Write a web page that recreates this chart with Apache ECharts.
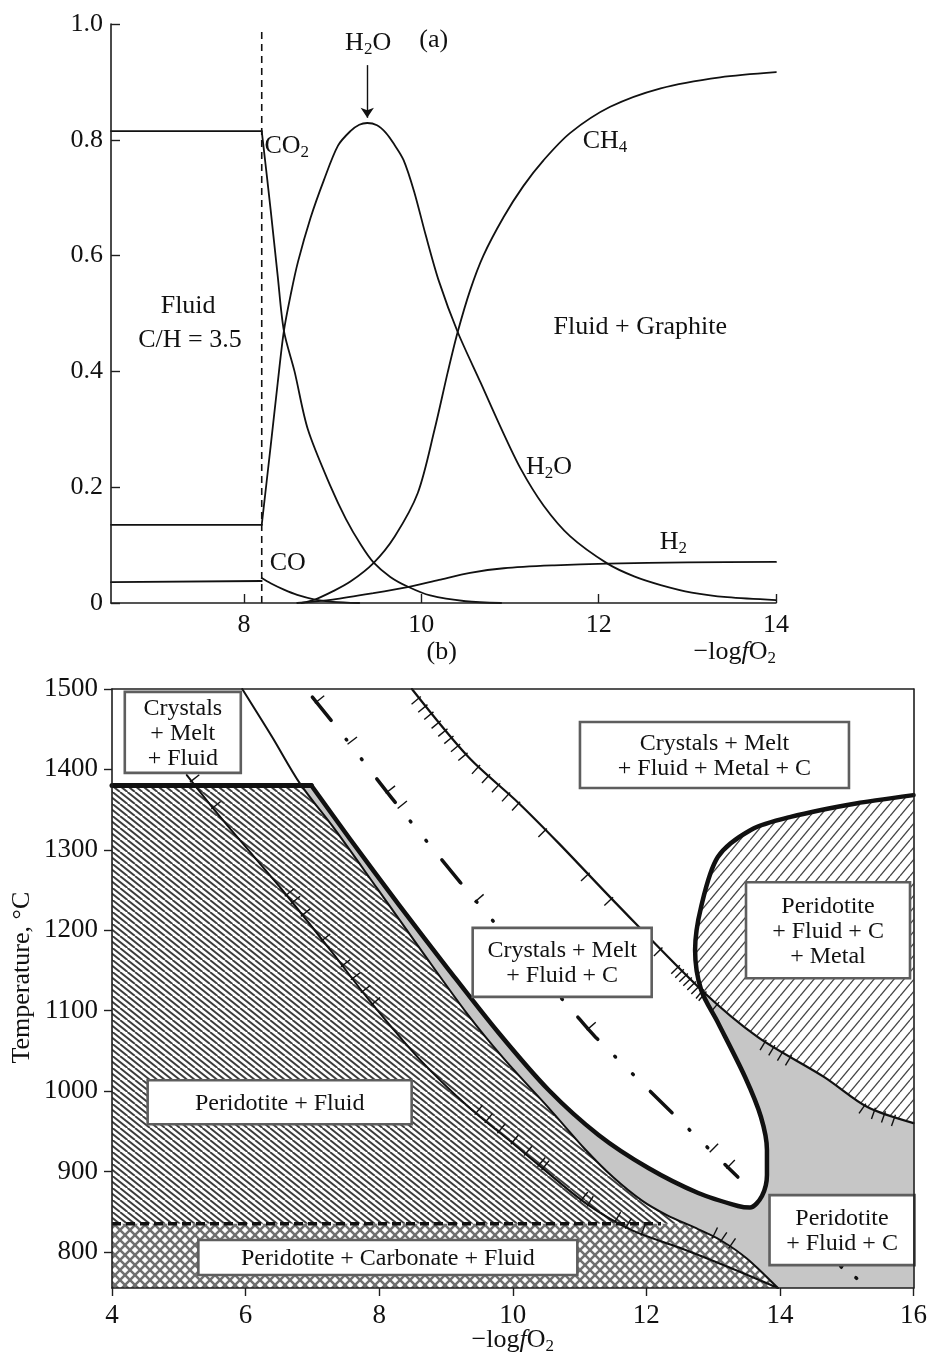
<!DOCTYPE html>
<html>
<head>
<meta charset="utf-8">
<title>Fluid speciation and phase relations versus −log fO2</title>
<script src="https://cdn.jsdelivr.net/npm/echarts@6.0.0/dist/echarts.min.js"></script>
<style>
html, body { margin: 0; padding: 0; background: #fff; }
#chart { width: 930px; height: 1360px; }
</style>
</head>
<body>
<div id="chart"></div>
<script>
// ---------------- (a) fluid species vs −log fO2 ----------------
const graphiteOnsetX = 8.2;                 // dashed line: graphite saturation
const topXTicks = [8, 10, 12, 14];

const speciesCO2 = [[6.5,0.815],[8.2,0.815],[8.3,0.68],[8.38,0.565],[8.45,0.47],[8.57,0.40],[8.72,0.30],[8.98,0.20],[9.15,0.145],[9.32,0.10],[9.46,0.07],[9.65,0.045],[9.85,0.028],[10.1,0.013],[10.5,0.003],[10.9,0.0]];
const speciesH2O = [[6.5,0.135],[8.2,0.135],[8.3,0.27],[8.38,0.38],[8.45,0.47],[8.53,0.535],[8.61,0.59],[8.75,0.665],[8.9,0.73],[9.06,0.79],[9.2,0.815],[9.3,0.826],[9.39,0.829],[9.5,0.825],[9.6,0.812],[9.69,0.793],[9.8,0.765],[9.92,0.71],[10.05,0.635],[10.2,0.555],[10.41,0.468],[10.67,0.38],[10.89,0.305],[11.12,0.232],[11.38,0.168],[11.68,0.115],[12.1,0.068],[12.4,0.046],[12.7,0.031],[13.05,0.018],[13.45,0.010],[14.0,0.005]];
const speciesCH4 = [[8.65,0.0],[8.8,0.006],[9.0,0.02],[9.2,0.037],[9.46,0.069],[9.7,0.115],[9.96,0.19],[10.15,0.30],[10.3,0.40],[10.41,0.468],[10.55,0.54],[10.7,0.60],[10.93,0.667],[11.15,0.72],[11.38,0.765],[11.68,0.812],[12.13,0.857],[12.7,0.889],[13.37,0.908],[14.0,0.917]];
const speciesCO  = [[6.5,0.036],[8.2,0.038],[8.2,0.043],[8.3,0.034],[8.45,0.023],[8.6,0.014],[8.8,0.006],[9.0,0.002],[9.3,0.0]];
const speciesH2  = [[8.6,0.0],[9.0,0.006],[9.46,0.017],[9.86,0.028],[10.2,0.04],[10.55,0.052],[10.93,0.06],[11.5,0.065],[12.1,0.068],[13.0,0.07],[14.0,0.071]];

// ---------------- (b) temperature vs −log fO2 ----------------
const tempTicks = [800, 900, 1000, 1100, 1200, 1300, 1400, 1500];
const carbonateLimitT = 835;                // dashed line
const carbonateLimitEndX = 12.22;

// heavy boundary: 1380 °C plateau, lower branch, nose, upper branch
const heavyBoundary = [[4,1380],[6.985,1380],[7.552,1314.7],[8.299,1231.3],[9.045,1150.5],[9.791,1072.1],[10.537,1001.2],[11.284,945.3],[12.03,904.2],[12.776,873.1],[13.373,857.0],[13.552,855.0],[13.731,869.4],[13.806,895.5],[13.806,926.6],[13.716,967.7],[13.478,1017.4],[13.075,1084.6],[12.82,1126],[12.73,1175.4],[12.82,1228.9],[13.07,1291],[13.57,1325],[14.16,1341],[15.16,1358],[16,1368]];
// upper edge of the Peridotite + Fluid field
const peridotiteFluidEdge = [[5.95,1500],[6.4,1440],[6.81,1383],[7.34,1325],[7.97,1252],[8.63,1175],[9.31,1097],[9.87,1040],[10.57,976],[11.09,927],[11.5,893],[11.93,864],[12.3,846],[12.78,828],[13.1,815],[13.5,792],[13.97,755]];
// ticked curve inside the Peridotite + Fluid field
const innerCurve = [[5.12,1393],[5.57,1346],[6.1,1294],[6.55,1250],[7.30,1172],[7.85,1113],[8.6,1040],[9.34,980],[10.0,935],[10.43,905],[11.1,860],[11.78,827],[12.5,805],[13.2,782],[13.97,755]];
// ticked curve bounding the metal-bearing fields
const metalCurve = [[8.49,1500],[9.34,1415],[10.09,1358],[10.69,1308],[11.54,1234],[12.82,1126],[13.67,1067],[14.67,1017],[15.31,980],[16,960]];
// dash-dot curve
const dashDotCurve = [[7.0,1490],[7.51,1437],[8.25,1358],[9.22,1259],[9.69,1213],[10.88,1101],[11.24,1067],[13.37,893]];
const dashDotTail = [[14.91,782],[15.39,752]];

// tick marks (x positions) along the curves
const metalCurveTicks = [8.6,8.7,8.79,8.9,9.0,9.09,9.19,9.3,9.49,9.64,9.79,9.94,10.09,10.49,11.13,11.48,12.07,12.22,12.48,12.54,12.6,12.66,12.72,12.78,12.84,12.88,13.07,13.78,13.91,14.04,14.16,15.27,15.42,15.57,15.72];
const innerCurveTicks = [5.19,5.51,6.61,6.7,6.85,7.15,7.45,7.6,7.75,7.9,9.45,9.6,9.79,9.99,10.19,10.39,10.45,11.03,11.13,11.54,11.7,11.93];
const edgeTicks = [13.0,13.12,13.25];
const dashDotTicks = [7.06,7.55,8.12,8.3,9.45,11.13,12.97,13.22];
const dashDotTailTicks = [14.93];

// phase-field labels
const fieldLabels = [
  { at:[5.06,1446],  w:116, h:81, lines:['Crystals','+ Melt','+ Fluid'] },
  { at:[13.02,1418], w:269, h:66, lines:['Crystals + Melt','+ Fluid + Metal + C'] },
  { at:[10.74,1160], w:179, h:69, lines:['Crystals + Melt','+ Fluid + C'] },
  { at:[14.72,1200], w:164, h:96, lines:['Peridotite','+ Fluid + C','+ Metal'] },
  { at:[6.51,986],   w:264, h:44, lines:['Peridotite + Fluid'] },
  { at:[8.13,793],   w:379, h:35, lines:['Peridotite + Carbonate + Fluid'] },
  { at:[14.93,827],  w:145, h:70, lines:['Peridotite','+ Fluid + C'] }
];

const topTexts = [
  { at:[8.23,0.789],  text:'{n|CO}{s|2}', align:'left' },
  { at:[11.82,0.798], text:'{n|CH}{s|4}', align:'left' },
  { at:[9.40,0.967],  text:'{n|H}{s|2}{n|O}' },
  { at:[10.14,0.972], text:'{n|(a)}' },
  { at:[7.37,0.513],  text:'{n|Fluid}' },
  { at:[7.39,0.454],  text:'{n|C/H = 3.5}' },
  { at:[12.47,0.477], text:'{n|Fluid + Graphite}' },
  { at:[11.18,0.235], text:'{n|H}{s|2}{n|O}', align:'left' },
  { at:[12.69,0.105], text:'{n|H}{s|2}', align:'left' },
  { at:[8.29,0.069],  text:'{n|CO}', align:'left' },
  { at:[14.0,-0.085], text:'{n|−log}{i|f}{n|O}{s|2}', align:'right' },
  { at:[10.23,-0.085],text:'{n|(b)}' }
];
const bottomTexts = [
  { at:[10.0,690],  text:'{n|−log}{i|f}{n|O}{s|2}' },
  { at:[2.66,1141], text:'{n|Temperature, °C}', rotate:Math.PI/2 }
];

// ---------------- helpers ----------------
const FONT = '"Liberation Serif", "Times New Roman", Times, serif';
const INK = '#111';
const RICH = {
  n: { fontSize:26, fontFamily:FONT, fill:INK, color:INK, lineHeight:30 },
  i: { fontSize:26, fontFamily:FONT, fontStyle:'italic', fill:INK, color:INK, lineHeight:30 },
  s: { fontSize:17, fontFamily:FONT, fill:INK, color:INK, lineHeight:19, verticalAlign:'bottom' }
};

// repeating line pattern; each tile is w x h, lines run corner to corner,
// `count` parallel lines per tile
function hatch(w, h, count, width, color, dirs) {
  const c = document.createElement('canvas');
  c.width = w; c.height = h;
  const g = c.getContext('2d');
  g.fillStyle = '#fff';
  g.fillRect(0, 0, w, h);
  g.strokeStyle = color;
  g.lineWidth = width;
  for (const d of dirs) {
    for (let j = 0; j < count; j++) {
      const o = j * w / count;
      for (let k = -1; k <= 1; k++) {
        g.beginPath();
        if (d === '\\') { g.moveTo(o + k*w, 0); g.lineTo(o + k*w + w, h); }
        else { g.moveTo(o + k*w, h); g.lineTo(o + k*w + w, 0); }
        g.stroke();
      }
    }
  }
  return { image: c, repeat: 'repeat' };
}
const backHatch  = hatch(15, 12, 2, 1.9, '#3c3c3c', ['\\']);
const fwdHatch   = hatch(10, 12, 1, 1.3, '#444', ['/']);
const crossHatch = hatch(10, 10, 1, 2.5, '#707070', ['\\', '/']);

// part of a curve (T decreasing along it) between two temperatures
function sliceByT(line, hi, lo) {
  const out = [];
  for (let i = 0; i < line.length; i++) {
    const p = line[i];
    if (i > 0) {
      const a = line[i-1];
      for (const t of [hi, lo]) {
        if ((a[1]-t)*(p[1]-t) < 0) {
          const f = (t - a[1]) / (p[1] - a[1]);
          out.push([a[0] + (p[0]-a[0])*f, t]);
        }
      }
    }
    if (p[1] <= hi && p[1] >= lo) out.push(p);
  }
  return out;
}
function splitAt(pts, x0) {
  const i = pts.findIndex(p => p[0] >= x0);
  let j = -1;
  pts.forEach((p, k) => { if (p[0] <= x0) j = k; });
  return [i > 0 ? pts.slice(0, i+1) : [], j >= 0 ? pts.slice(j) : pts];
}
const same = (a, b) => a[0] === b[0] && a[1] === b[1];
const kHeavy = heavyBoundary.findIndex(p => metalCurve.some(q => same(p, q)));
const kMetal = metalCurve.findIndex(p => same(p, heavyBoundary[kHeavy]));

// filled fields
const regionBack = [[4,1380], ...sliceByT(peridotiteFluidEdge, 1380, carbonateLimitT), [4,carbonateLimitT]];
const regionCross = [[4,carbonateLimitT], ...sliceByT(peridotiteFluidEdge, carbonateLimitT, 755), [4,755]];
const regionGrey = [...sliceByT(peridotiteFluidEdge, 1383, 755), [16,755],
  ...metalCurve.slice(kMetal).reverse(), ...heavyBoundary.slice(1, kHeavy).reverse()];
const regionMetal = [...heavyBoundary.slice(kHeavy), ...metalCurve.slice(kMetal).reverse().slice(0, -1)];

function regionSeries(pts, fill) {
  return {
    type:'custom', xAxisIndex:1, yAxisIndex:1, z:1, silent:true, animation:false, clip:true,
    data:[[10, 1000]],
    renderItem: (p, api) => ({
      type:'polygon',
      shape:{ points: pts.map(q => api.coord(q)) },
      style:{ fill: fill, stroke: null }
    })
  };
}

function lineSeries(xi, data, width, opts) {
  return Object.assign({
    type:'line', xAxisIndex:xi, yAxisIndex:xi, data: data, symbol:'none', showSymbol:false,
    silent:true, animation:false, z:3,
    lineStyle:{ color:INK, width: width, cap:'round', join:'round' }
  }, opts || {});
}

const hachureSets = [
  { line: metalCurve, at: metalCurveTicks, side: -1 },
  { line: innerCurve, at: innerCurveTicks, side: 1 },
  { line: peridotiteFluidEdge, at: edgeTicks, side: 1 },
  { line: dashDotCurve, at: dashDotTicks, side: 1 },
  { line: dashDotTail, at: dashDotTailTicks, side: 1 }
];
const hachureSeries = {
  type:'custom', xAxisIndex:1, yAxisIndex:1, z:4, silent:true, animation:false, clip:true,
  data:[[10, 1000]],
  renderItem: (p, api) => {
    const children = [];
    for (const h of hachureSets) {
      const px = h.line.map(q => api.coord(q));
      for (const x of h.at) {
        let i = 0;
        while (i < h.line.length - 2 && h.line[i+1][0] < x) i++;
        const a = h.line[i], b = h.line[i+1];
        const f = (x - a[0]) / (b[0] - a[0]);
        const P = [px[i][0] + (px[i+1][0]-px[i][0])*f, px[i][1] + (px[i+1][1]-px[i][1])*f];
        let tx = px[i+1][0]-px[i][0], ty = px[i+1][1]-px[i][1];
        const L = Math.hypot(tx, ty); tx /= L; ty /= L;
        const nx = ty*h.side, ny = -tx*h.side;
        children.push({ type:'line',
          shape:{ x1:P[0]-nx*2, y1:P[1]-ny*2, x2:P[0]+nx*10, y2:P[1]+ny*10 },
          style:{ stroke:INK, lineWidth:1.4 } });
      }
    }
    return { type:'group', children };
  }
};

const fieldLabelSeries = {
  type:'custom', xAxisIndex:1, yAxisIndex:1, z:6, silent:true, animation:false, clip:false,
  data: fieldLabels.map(b => b.at),
  renderItem: (p, api) => {
    const b = fieldLabels[p.dataIndex];
    const c = api.coord(b.at);
    return { type:'group', children:[
      { type:'rect', shape:{ x:c[0]-b.w/2, y:c[1]-b.h/2, width:b.w, height:b.h },
        style:{ fill:'#fff', stroke:'#5e5e5e', lineWidth:2.6 } },
      { type:'text', x:c[0], y:c[1]+1,
        style:{ text:b.lines.join('\n'), font:'24px ' + FONT, fill:INK, lineHeight:25,
                align:'center', verticalAlign:'middle', textAlign:'center', textVerticalAlign:'middle' } }
    ]};
  }
};

function textSeries(xi, items) {
  return {
    type:'custom', xAxisIndex:xi, yAxisIndex:xi, z:7, silent:true, animation:false, clip:false,
    data: items.map(t => t.at),
    renderItem: (p, api) => {
      const t = items[p.dataIndex];
      const c = api.coord(t.at);
      const al = t.align || 'center';
      return { type:'text', x:c[0], y:c[1], rotation:t.rotate || 0,
        style:{ text:t.text, rich:RICH, font:'26px ' + FONT, fill:INK,
                align:al, verticalAlign:'middle', textAlign:al, textVerticalAlign:'middle' } };
    }
  };
}

// ---------------- series ----------------
const series = [];
for (const sp of [speciesCO2, speciesH2O, speciesCH4, speciesCO, speciesH2]) {
  const [before, after] = splitAt(sp, graphiteOnsetX);
  if (before.length > 1) series.push(lineSeries(0, before, 1.8));
  series.push(lineSeries(0, after, 1.8, { smooth: 0.3 }));
}
// arrow pointing at the H2O maximum
series.push(lineSeries(0, [], 1.4, {
  markLine:{ silent:true, animation:false, symbol:['none','arrow'], symbolSize:10,
    label:{ show:false }, lineStyle:{ type:'solid', color:INK, width:1.4 },
    data:[[{ coord:[9.39,0.929] }, { coord:[9.39,0.838] }]] }
}));
series.push(lineSeries(0, [[graphiteOnsetX,0],[graphiteOnsetX,0.99]], 1.6, {
  lineStyle:{ color:INK, width:1.6, type:[7,5] }
}));
series.push(textSeries(0, topTexts));

series.push(regionSeries(regionBack, backHatch));
series.push(regionSeries(regionCross, crossHatch));
series.push(regionSeries(regionGrey, '#c6c6c6'));
series.push(regionSeries(regionMetal, fwdHatch));

series.push(lineSeries(1, heavyBoundary.slice(0, 2), 5));
series.push(lineSeries(1, heavyBoundary.slice(1), 4.5, { smooth: 0.3 }));
series.push(lineSeries(1, peridotiteFluidEdge, 2, { smooth: 0.3 }));
series.push(lineSeries(1, innerCurve, 2, { smooth: 0.3 }));
series.push(lineSeries(1, metalCurve, 2.2, { smooth: 0.3 }));
series.push(lineSeries(1, dashDotCurve, 3.5, { smooth: 0.3,
  lineStyle:{ color:INK, width:3.5, cap:'round', type:[30,24,1,24,1,24] } }));
series.push(lineSeries(1, dashDotTail, 3.5, {
  lineStyle:{ color:INK, width:3.5, cap:'round', type:[1,18,1,40] } }));
series.push(lineSeries(1, [[4,carbonateLimitT],[carbonateLimitEndX,carbonateLimitT]], 3.5, {
  lineStyle:{ color:INK, width:3.5, type:[9,5] } }));
series.push(hachureSeries);
series.push(fieldLabelSeries);
series.push(textSeries(1, bottomTexts));

// ---------------- axes ----------------
const axisLine = { show:true, onZero:false, lineStyle:{ color:'#1e1e1e', width:1.6 } };
const tickLine = { color:'#1e1e1e', width:1.4 };
const lbl = (size, margin) => ({ fontFamily:FONT, fontSize:size, color:INK, margin:margin });

const option = {
  backgroundColor:'#fff',
  animation:false,
  grid:[
    { left:111, top:24, width:665, height:579 },
    { left:112, top:689, width:804, height:599 }
  ],
  xAxis:[
    { gridIndex:0, type:'value', min:6.5, max:14, axisLine,
      axisTick:{ show:true, inside:true, length:9, customValues:topXTicks, lineStyle:tickLine },
      axisLabel:Object.assign({ customValues:topXTicks, formatter: v => String(v) }, lbl(26, 9)),
      splitLine:{ show:false }, z:10 },
    { gridIndex:1, type:'value', min:4, max:16, interval:2, axisLine,
      axisTick:{ show:true, length:8, lineStyle:tickLine },
      axisLabel:Object.assign({ formatter: v => String(v) }, lbl(27, 14)),
      splitLine:{ show:false }, z:10 },
    { gridIndex:1, type:'value', position:'top', min:4, max:16, axisLine,
      axisTick:{ show:false }, axisLabel:{ show:false }, splitLine:{ show:false }, z:10 }
  ],
  yAxis:[
    { gridIndex:0, type:'value', min:0, max:1, interval:0.2, axisLine,
      axisTick:{ show:true, inside:true, length:9, lineStyle:tickLine },
      axisLabel:Object.assign({ formatter: v => v === 0 ? '0' : v.toFixed(1) }, lbl(26, 8)),
      splitLine:{ show:false }, z:10 },
    { gridIndex:1, type:'value', min:755, max:1500, axisLine,
      axisTick:{ show:true, length:8, customValues:tempTicks, lineStyle:tickLine },
      axisLabel:Object.assign({ customValues:tempTicks, formatter: v => String(v) }, lbl(27, 14)),
      splitLine:{ show:false }, z:10 },
    { gridIndex:1, type:'value', position:'right', min:755, max:1500, axisLine,
      axisTick:{ show:false }, axisLabel:{ show:false }, splitLine:{ show:false }, z:10 }
  ],
  series
};

const chart = echarts.init(document.getElementById('chart'), null, { renderer:'canvas' });
chart.setOption(option);
</script>
</body>
</html>
